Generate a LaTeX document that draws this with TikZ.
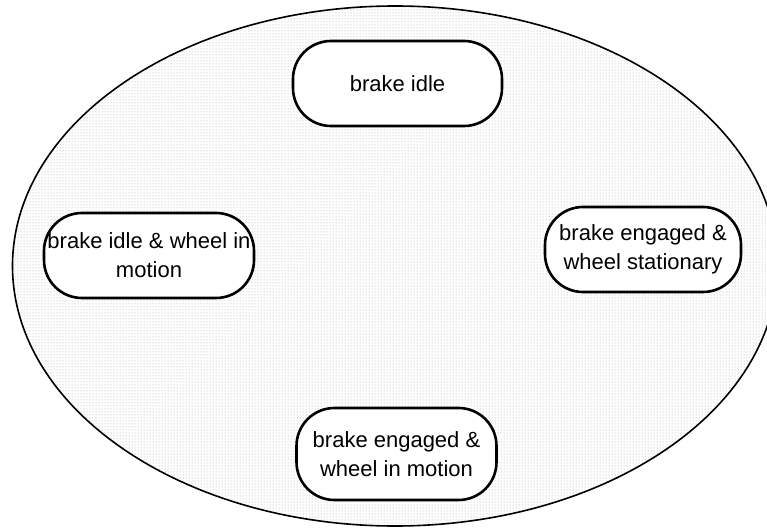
\documentclass[tikz,border=0pt]{standalone}
\usepackage{fontspec}
\setmainfont{Liberation Sans}
\usetikzlibrary{patterns}
\tikzset{
	state/.style={draw=black, line width=2.6pt, fill=white, rectangle, rounded corners=38pt,
		inner sep=0pt, align=center, font=\fontsize{22}{29}\selectfont},
	region/.style={draw=black, line width=1.6pt, pattern=dots, pattern color=gray!70},
}
\begin{document}
\begin{tikzpicture}[x=1pt, y=-1pt]
	\useasboundingbox (0,0) rectangle (767,529);
	\fill[white] (0,0) rectangle (767,529);
	% the set of brake states
	\draw[region] (395,266) ellipse [x radius=382.5pt, y radius=260pt];
	\node[state, minimum width=209pt, minimum height=85pt] (idle) at (397.5,83.5) {brake idle};
	\node[state, minimum width=210pt, minimum height=85pt] (idlemotion) at (149,255.5) {brake idle \& wheel in\\motion};
	\node[state, minimum width=196pt, minimum height=85pt] (engstat) at (643,249.5) {brake engaged \&\\wheel stationary};
	\node[state, minimum width=200pt, minimum height=92pt] (engmotion) at (396.5,454) {brake engaged \&\\wheel in motion};
\end{tikzpicture}
\end{document}
